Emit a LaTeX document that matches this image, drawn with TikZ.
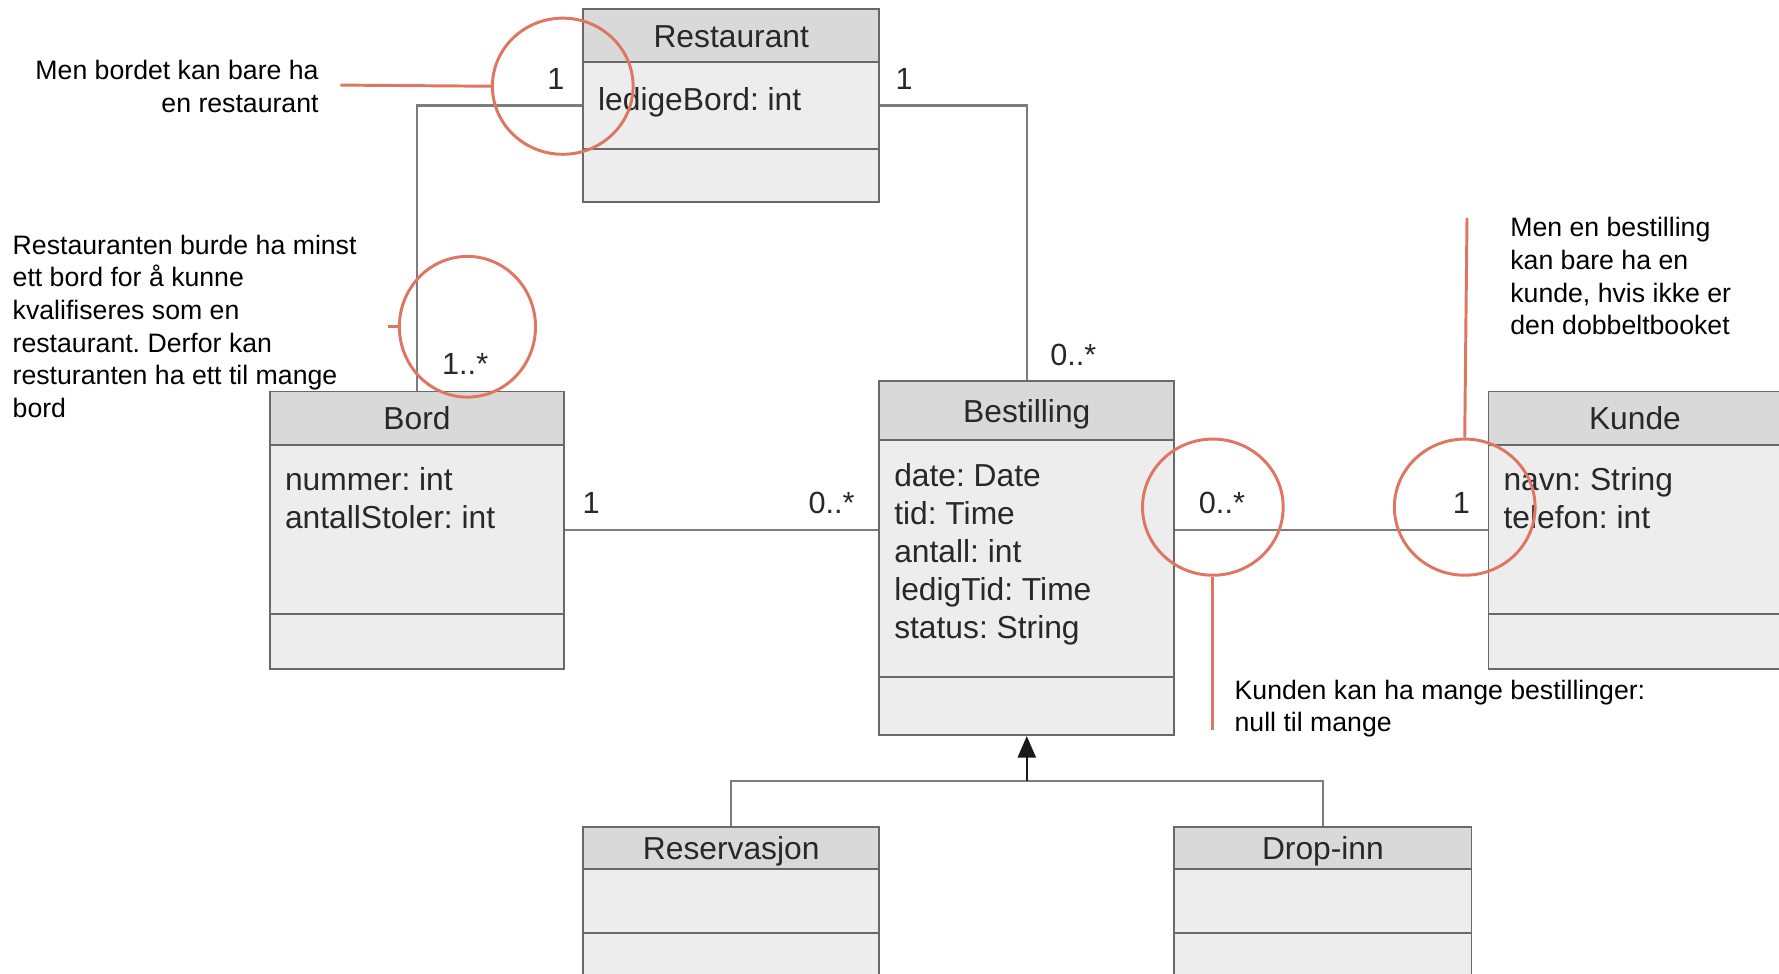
\documentclass[tikz,border=0pt]{standalone}
\usepackage{fontspec}
\setmainfont{Liberation Sans}
\frenchspacing
\usetikzlibrary{arrows.meta,shapes.geometric}
\definecolor{boxline}{RGB}{105,105,105}
\definecolor{headfill}{RGB}{217,217,217}
\definecolor{bodyfill}{RGB}{237,237,237}
\definecolor{conline}{RGB}{125,125,125}
\definecolor{umltext}{RGB}{40,40,40}
\definecolor{notered}{RGB}{222,118,98}
\begin{document}
\begin{tikzpicture}[x=1pt,y=-1pt,
  body/.style={draw=boxline, fill=bodyfill, line width=1.6pt, inner sep=0pt},
  head/.style={draw=boxline, fill=headfill, line width=1.6pt, inner sep=0pt, anchor=north west,
    text=umltext, font=\fontsize{28}{33}\selectfont, text height=20pt, text depth=0pt},
  divider/.style={draw=boxline, line width=1.6pt},
  attr/.style={inner sep=0pt, anchor=base west, align=left, text=umltext, font=\fontsize{28}{33.5}\selectfont},
  mult/.style={inner sep=0pt, text=umltext, font=\fontsize{27}{32}\selectfont},
  conn/.style={draw=conline, line width=1.8pt},
  note/.style={inner sep=0pt, text=black, font=\fontsize{23.5}{28.8}\selectfont},
  ring/.style={ellipse, draw=notered, line width=2.6pt, inner sep=0pt},
  redline/.style={draw=notered, line width=2.6pt}
]
\useasboundingbox (0,0) rectangle (1568,858);
\clip (0,0) rectangle (1568,858);

% ---- class bodies
\node[body, minimum width=261pt, minimum height=170pt] (rest) at (644.5,93) {};
\node[body, minimum width=259pt, minimum height=245pt] (bord) at (367.5,467.5) {};
\node[body, minimum width=260pt, minimum height=312pt] (best) at (905,492) {};
\node[body, minimum width=258pt, minimum height=245pt] (kunde) at (1441,467.5) {};
\node[body, minimum width=261pt, minimum height=151pt] (res) at (644.5,804.5) {};
\node[body, minimum width=262pt, minimum height=151pt] (drop) at (1166,804.5) {};

% ---- headers
\node[head, minimum width=261pt, minimum height=47pt] (resth) at (rest.north west) {Restaurant};
\node[head, minimum width=259pt, minimum height=47pt] (bordh) at (bord.north west) {Bord};
\node[head, minimum width=260pt, minimum height=52pt] (besth) at (best.north west) {Bestilling};
\node[head, minimum width=258pt, minimum height=47pt] (kundeh) at (kunde.north west) {Kunde};
\node[head, minimum width=261pt, minimum height=37pt] (resh) at (res.north west) {Reservasjon};
\node[head, minimum width=262pt, minimum height=37pt] (droph) at (drop.north west) {Drop-inn};

% ---- operation dividers
\draw[divider] (rest.west |- 0,131) -- (rest.east |- 0,131);
\draw[divider] (bord.west |- 0,541) -- (bord.east |- 0,541);
\draw[divider] (best.west |- 0,597) -- (best.east |- 0,597);
\draw[divider] (kunde.west |- 0,541) -- (kunde.east |- 0,541);
\draw[divider] (res.west |- 0,822) -- (res.east |- 0,822);
\draw[divider] (drop.west |- 0,822) -- (drop.east |- 0,822);

% ---- attributes (base = baseline of the last line)
\node[attr] (resta) at (527,97) {ledigeBord: int};
\node[attr] (borda) at (251,466) {nummer: int\\antallStoler: int};
\node[attr] (besta) at (788,563) {date: Date\\tid: Time\\antall: int\\ledigTid: Time\\status: String};
\node[attr] (kundea) at (1325,466) {navn: String\\telefon: int};

% ---- associations
\draw[conn] (rest.west) -| (bordh.north);
\draw[conn] (rest.east) -| (besth.north);
\draw[conn] (bord.east) -- (bord.east -| best.west);
\draw[conn] (best.east |- kunde.west) -- (kunde.west);

% ---- generalization
\coordinate (gen) at (905,688);
\draw[conn] (resh.north) |- (gen) -| (droph.north);
\draw[conn, draw=black!90, -{Triangle[length=19pt,width=16pt]}] (gen) -- (best.south);

% ---- multiplicities
\node[mult] (m1) at (490,70) {1};
\node[mult] (m2) at (797,70) {1};
\node[mult] (m3) at (410,321) {1..*};
\node[mult] (m4) at (946,313) {0..*};
\node[mult] (m5) at (521,443) {1};
\node[mult] (m6) at (733,443) {0..*};
\node[mult] (m7) at (1077,443) {0..*};
\node[mult] (m8) at (1288,443) {1};

% ---- red annotation rings
\node[ring, minimum width=124pt, minimum height=120pt] (c1) at (496,76) {};
\node[ring, minimum width=120pt, minimum height=124pt] (c2) at (412,288) {};
\node[ring, minimum width=124pt, minimum height=120pt] (c3) at (1069,447) {};
\node[ring, minimum width=124pt, minimum height=120pt] (c4) at (1291,447) {};

\coordinate (e1) at (300,75);
\coordinate (e2) at (342,288);
\coordinate (e3) at (1069,643);
\coordinate (e4) at (1293,192);
\draw[redline] (e1) -- (c1.west);
\draw[redline] (e2) -- (c2.west);
\draw[redline] (c3.south) -- (e3);
\draw[redline] (c4.north) -- (e4);

% ---- notes (base = baseline of the last line)
\node[note, anchor=base east, align=right] (n1) at (281,99) {Men bordet kan bare ha\\en restaurant};
\node[note, anchor=base west, align=left] (n2) at (11,368) {Restauranten burde ha minst\\ett bord for å kunne\\kvalifiseres som en\\restaurant. Derfor kan\\resturanten ha ett til mange\\bord};
\node[note, anchor=base west, align=left] (n3) at (1331,295) {Men en bestilling\\kan bare ha en\\kunde, hvis ikke er\\den dobbeltbooket};
\node[note, anchor=base west, align=left] (n4) at (1088,645) {Kunden kan ha mange bestillinger:\\null til mange};
\end{tikzpicture}
\end{document}
